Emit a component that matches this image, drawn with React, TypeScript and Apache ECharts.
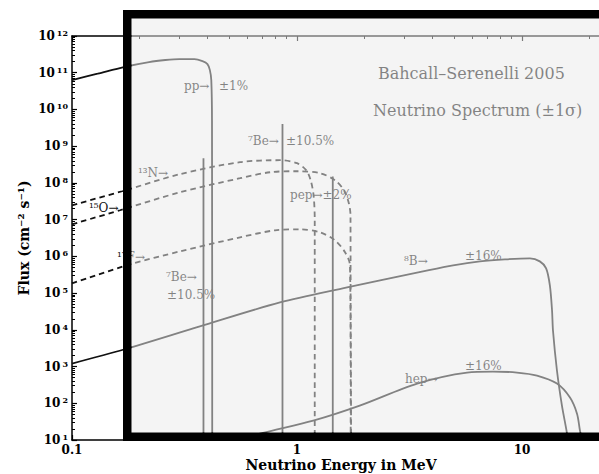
import React, { useEffect, useRef } from "react";
import * as echarts from "echarts";

// Energies in MeV, fluxes in cm^-2 s^-1 (MeV^-1 for continua)
const ppSpectrum: [number, number][] = [
  [0.1, 6.3e10], [0.13, 9.4e10], [0.17, 1.43e11], [0.22, 1.95e11], [0.26, 2.22e11],
  [0.3, 2.36e11], [0.35, 2.36e11], [0.38, 2.08e11], [0.4, 1.72e11], [0.41, 1.18e11],
  [0.416, 6.3e10], [0.419, 5e9], [0.42, 1],
];
const be7LowLine: [number, number][] = [[0.384, 1], [0.384, 4.7e8]];
const be7HighLine: [number, number][] = [[0.862, 1], [0.862, 4.0e9]];
const pepLine: [number, number][] = [[1.442, 1], [1.442, 1.5e8]];
const n13Spectrum: [number, number][] = [
  [0.1, 2.46e7], [0.167, 5.93e7], [0.302, 1.73e8], [0.558, 3.67e8], [0.84, 4.15e8],
  [1.0, 3.44e8], [1.1, 2.2e8], [1.15, 1.18e8], [1.185, 4.6e7], [1.199, 1e7], [1.199, 1],
];
const o15Spectrum: [number, number][] = [
  [0.1, 7.47e6], [0.1635, 1.8e7], [0.302, 5.57e7], [0.558, 1.34e8], [0.759, 1.95e8],
  [1.0, 2.08e8], [1.265, 1.84e8], [1.475, 1.18e8], [1.618, 6.3e7], [1.7, 2.8e7],
  [1.729, 1.3e7], [1.732, 1],
];
const f17Spectrum: [number, number][] = [
  [0.1, 1.84e5], [0.181, 6.05e5], [0.302, 1.37e6], [0.558, 3.3e6], [0.798, 5.13e6],
  [1.031, 5.46e6], [1.265, 4.52e6], [1.475, 2.73e6], [1.635, 1.29e6], [1.72, 5.69e5],
  [1.74, 1],
];
const b8Spectrum: [number, number][] = [
  [0.1, 1210], [0.17, 2910], [0.37, 12400], [0.84, 55700], [1.67, 143000],
  [2.34, 222000], [3.63, 390000], [4.94, 569000], [6.5, 731000], [8.4, 830000],
  [10.85, 883000], [12.0, 731000], [12.8, 471000], [13.3, 162000], [13.6, 33700],
  [13.73, 9600], [14.3, 780], [15.05, 86], [15.85, 15], [16.7, 1.5],
];
const hepSpectrum: [number, number][] = [
  [0.37, 5.1], [0.685, 14.9], [1.18, 33.7], [1.9, 86.5], [3.42, 344], [5.7, 687],
  [7.43, 731], [9.5, 687], [11.66, 569], [14.3, 344], [16.34, 143], [17.56, 52],
  [18.1, 18], [18.48, 9.6], [18.86, 1.5],
];

const xRange = [0.1, 100];
const xLabelValues = [0.1, 1, 10];
const yRange = [10, 1e12];

const annotations = [
  { text: "pp\u2192", x: 184, y: 86 },
  { text: "\u00b11%", x: 219, y: 86 },
  { text: "\u2077Be\u2192", x: 248, y: 141 },
  { text: "\u00b110.5%", x: 286, y: 141 },
  { text: "\u00b9\u00b3N\u2192", x: 138, y: 173 },
  { text: "\u00b9\u2075O\u2192", x: 89, y: 208 },
  { text: "\u00b9\u2077F\u2192", x: 117, y: 257 },
  { text: "\u2077Be\u2192", x: 166, y: 277 },
  { text: "\u00b110.5%", x: 167, y: 295 },
  { text: "pep\u2192\u00b12%", x: 290, y: 195 },
  { text: "\u2078B\u2192", x: 404, y: 261 },
  { text: "\u00b116%", x: 465, y: 256 },
  { text: "hep\u2192", x: 405, y: 379 },
  { text: "\u00b116%", x: 465, y: 366 },
];

const FONT = '"DejaVu Serif", serif';

export default function App() {
  const ref = useRef<HTMLDivElement>(null);
  useEffect(() => {
    const chart = echarts.init(ref.current!, null, { renderer: "svg" });
    const solid = (data: [number, number][], smooth = 0) => ({
      type: "line",
      data,
      symbol: "none",
      clip: true,
      silent: true,
      smooth,
      lineStyle: { color: "#111", width: 1.8, type: "solid" },
    });
    const dashed = (data: [number, number][]) => ({
      type: "line",
      data,
      symbol: "none",
      clip: true,
      silent: true,
      smooth: 0.3,
      lineStyle: { color: "#111", width: 1.8, type: [5.5, 4] },
    });
    const axisCommon = {
      type: "log",
      logBase: 10,
      axisLine: { show: true, lineStyle: { color: "#000", width: 1.5 } },
      axisTick: { show: true, inside: true, length: 5, lineStyle: { color: "#000", width: 1.2 } },
      minorTick: { show: true, splitNumber: 9, length: 3, lineStyle: { color: "#000", width: 1 } },
      splitLine: { show: false },
      minorSplitLine: { show: false },
    };
    const option: any = {
      animation: false,
      backgroundColor: "#fff",
      grid: { left: 72, top: 36, width: 675, height: 404 },
      xAxis: [
        {
          ...axisCommon,
          min: xRange[0],
          max: xRange[1],
          interval: 1,
          position: "bottom",
          axisLabel: {
            margin: 4,
            fontFamily: FONT,
            fontWeight: "bold",
            fontSize: 12,
            color: "#000",
            formatter: (v: number) =>
              xLabelValues.some((t) => Math.abs(t - v) < 1e-9) ? String(v) : "",
          },
        },
        {
          ...axisCommon,
          min: xRange[0],
          max: xRange[1],
          interval: 1,
          position: "top",
          axisLabel: { show: false },
        },
      ],
      yAxis: {
        ...axisCommon,
        min: yRange[0],
        max: yRange[1],
        interval: 1,
        axisLabel: {
          margin: 4,
          formatter: (v: number) => `{b|10}{s|${Math.round(Math.log10(v))}}`,
          rich: {
            b: { fontFamily: FONT, fontWeight: "bold", fontSize: 12, color: "#000", lineHeight: 14 },
            s: {
              fontFamily: FONT,
              fontWeight: "bold",
              fontSize: 8,
              color: "#000",
              lineHeight: 9,
              verticalAlign: "top",
              padding: [0, 0, 0, 2],
            },
          },
        },
      },
      series: [
        solid(ppSpectrum, 0.3),
        solid(be7LowLine),
        solid(be7HighLine),
        solid(pepLine),
        dashed(n13Spectrum),
        dashed(o15Spectrum),
        dashed(f17Spectrum),
        solid(b8Spectrum, 0.3),
        solid(hepSpectrum, 0.3),
      ],
      graphic: [
        ...annotations.map((a) => ({
          type: "text",
          x: a.x,
          y: a.y,
          z: 50,
          silent: true,
          style: {
            text: a.text,
            fill: "#111",
            fontFamily: FONT,
            fontSize: 12,
            align: "left",
            verticalAlign: "middle",
          },
        })),
        {
          type: "text",
          x: 378,
          y: 73,
          z: 50,
          silent: true,
          style: {
            text: "Bahcall\u2013Serenelli 2005",
            fill: "#111",
            fontFamily: FONT,
            fontSize: 16,
            align: "left",
            verticalAlign: "middle",
          },
        },
        {
          type: "text",
          x: 373,
          y: 110,
          z: 50,
          silent: true,
          style: {
            text: "Neutrino Spectrum (\u00b11\u03c3)",
            fill: "#111",
            fontFamily: FONT,
            fontSize: 16,
            align: "left",
            verticalAlign: "middle",
          },
        },
        {
          type: "rect",
          z: 100,
          silent: true,
          shape: { x: 131.5, y: 18.5, width: 700, height: 414 },
          style: { fill: "rgba(233,233,233,0.52)" },
        },
        {
          type: "rect",
          z: 101,
          silent: true,
          shape: { x: 127.25, y: 14.25, width: 700, height: 422.5 },
          style: { fill: "none", stroke: "#000", lineWidth: 8.5 },
        },
        {
          type: "text",
          x: 341,
          y: 465,
          z: 102,
          silent: true,
          style: {
            text: "Neutrino Energy in MeV",
            fill: "#000",
            fontFamily: FONT,
            fontWeight: "bold",
            fontSize: 14,
            align: "center",
            verticalAlign: "middle",
          },
        },
        {
          type: "text",
          x: 24,
          y: 238,
          rotation: Math.PI / 2,
          z: 102,
          silent: true,
          style: {
            text: "Flux (cm\u207b\u00b2 s\u207b\u00b9)",
            fill: "#000",
            fontFamily: FONT,
            fontWeight: "bold",
            fontSize: 14,
            align: "center",
            verticalAlign: "middle",
          },
        },
      ],
    };
    chart.setOption(option);
    return () => chart.dispose();
  }, []);
  return (
    <div
      style={{
        position: "fixed",
        left: 0,
        top: 0,
        width: 599,
        height: 474,
        overflow: "hidden",
        background: "#fff",
      }}
    >
      <div ref={ref} style={{ width: 800, height: 474 }} />
    </div>
  );
}
